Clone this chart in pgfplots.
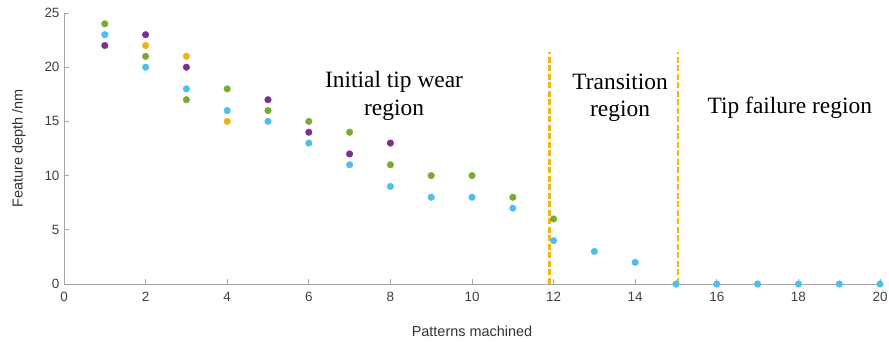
\documentclass[border=0pt]{standalone}
\usepackage{fontspec}
\setmainfont{Liberation Sans}
\newfontfamily\regionfont{Liberation Serif}
\usepackage{pgfplots}
\pgfplotsset{compat=1.18}

\definecolor{mgreen}{HTML}{77AC30}
\definecolor{mcyan}{HTML}{4DBEEE}
\definecolor{mpurple}{HTML}{7E2F8E}
\definecolor{morange}{HTML}{EDB120}
\definecolor{divider}{HTML}{F5B70A}
\definecolor{axgray}{HTML}{A6A6A6}

\begin{document}
\begin{tikzpicture}
\begin{axis}[
  anchor=origin, at={(0,0)},
  scale only axis, width=816bp, height=271bp,
  xmin=0, xmax=20, ymin=0, ymax=25,
  xtick={0,2,...,20}, ytick={0,5,...,25},
  axis x line*=bottom, axis y line*=left,
  axis line style={axgray, line width=1pt},
  tick align=inside, major tick length=5bp,
  tick style={axgray, line width=0.8pt},
  /pgf/number format/assume math mode=true,
  ticklabel style={font=\fontsize{13.5}{16}\selectfont, text=black!75},
  xticklabel style={yshift=-5bp},
  yticklabel style={xshift=-1bp},
  xlabel={Patterns machined}, ylabel={Feature depth /nm},
  label style={font=\fontsize{14.5}{17}\selectfont, text=black!80},
  xlabel style={yshift=-17bp},
  ylabel style={yshift=12bp},
  clip=false,
  every axis plot/.append style={only marks, mark=*, mark size=3.3bp, mark options={draw=none}},
]
% measured feature depths, one series per tip
\addplot[mgreen] coordinates {
  (1,24) (2,21) (3,17) (4,18) (5,16) (6,15) (7,14) (8,11) (9,10) (10,10) (11,8) (12,6)};
\addplot[mcyan] coordinates {
  (1,23) (2,20) (3,18) (4,16) (5,15) (6,13) (7,11) (8,9) (9,8) (10,8) (11,7) (12,4)
  (13,3) (14,2) (15,0) (16,0) (17,0) (18,0) (19,0) (20,0)};
\addplot[mpurple] coordinates {
  (1,22) (2,23) (3,20) (5,17) (6,14) (7,12) (8,13)};
\addplot[morange] coordinates {
  (2,22) (3,21) (4,15)};

% region boundaries
\addplot[divider, line width=2.8pt, dash pattern=on 6bp off 2.5bp, no marks, sharp plot]
  coordinates {(11.9,0) (11.9,21.4)};
\addplot[divider, line width=2.8pt, dash pattern=on 6bp off 2.5bp, no marks, sharp plot]
  coordinates {(15.05,0) (15.05,21.4)};

\node[anchor=base, align=center, font=\regionfont\fontsize{23.5}{28}\selectfont]
  at (axis cs:8.09,15.59) {Initial tip wear\\region};
\node[anchor=base, align=center, font=\regionfont\fontsize{23.5}{28}\selectfont]
  at (axis cs:13.63,15.41) {Transition\\region};
\node[anchor=base, font=\regionfont\fontsize{23.5}{28}\selectfont]
  at (axis cs:17.79,15.77) {Tip failure region};
\end{axis}
\pgfresetboundingbox
\path (-64bp,-58bp) rectangle (825bp,284bp);
\end{tikzpicture}
\end{document}
